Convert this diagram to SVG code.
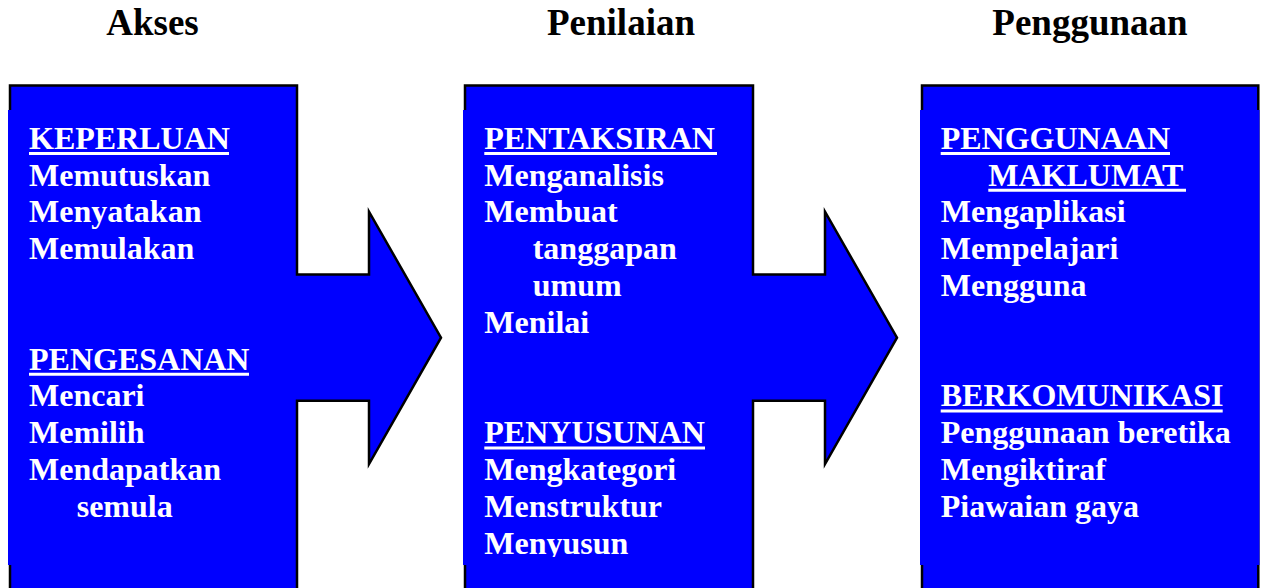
<svg xmlns="http://www.w3.org/2000/svg" width="1261" height="588" viewBox="0 0 1261 588">
<style>
.shape{fill:#0000FF;stroke:#000;stroke-width:2.5;stroke-linejoin:miter}
.cover{fill:#0000FF}
.title{font-family:"Liberation Serif","Times New Roman",serif;font-weight:bold;font-size:37px;fill:#000;text-anchor:middle}
.t{font-family:"Liberation Serif","Times New Roman",serif;font-weight:bold;font-size:32px;fill:#fff}
.ul{stroke:#fff;stroke-width:3}
</style>
<defs>
<clipPath id="clip2"><rect x="463" y="110" width="290" height="447"/></clipPath>
</defs>
<rect width="1261" height="588" fill="#fff"/>
<g id="titles">
<text class="title" x="152.5" y="35">Akses</text>
<text class="title" x="621" y="35">Penilaian</text>
<text class="title" x="1090" y="35">Penggunaan</text>
</g>
<g id="connectors">
<polygon class="shape" points="10,85.5 297,85.5 297,274.5 369,274.5 369,211.7 441,337.7 369,464 369,400.7 297,400.7 297,600 10,600"/>
<polygon class="shape" points="465,85.5 753,85.5 753,274.5 825,274.5 825,211.7 897,337.7 825,464 825,400.7 753,400.7 753,600 465,600"/>
</g>
<g id="node-akses">
<rect class="cover" x="8" y="110" width="287" height="455"/>
<text class="t" x="29" y="148.7">KEPERLUAN</text>
<line class="ul" x1="29" y1="153.5" x2="229" y2="153.5"/>
<text class="t" x="29" y="185.5">Memutuskan</text>
<text class="t" x="29" y="222.3">Menyatakan</text>
<text class="t" x="29" y="259.1">Memulakan</text>
<text class="t" x="29" y="369.5">PENGESANAN</text>
<line class="ul" x1="29" y1="374.3" x2="249" y2="374.3"/>
<text class="t" x="29" y="406.3">Mencari</text>
<text class="t" x="29" y="443.1">Memilih</text>
<text class="t" x="29" y="479.9">Mendapatkan</text>
<text class="t" x="76.7" y="516.7">semula</text>
</g>
<g id="node-penilaian">
<rect class="cover" x="463" y="110" width="288" height="455"/>
<g clip-path="url(#clip2)">
<text class="t" x="484.3" y="148.7">PENTAKSIRAN</text>
<line class="ul" x1="484.3" y1="153.5" x2="717" y2="153.5"/>
<text class="t" x="484.3" y="185.5">Menganalisis</text>
<text class="t" x="484.3" y="222.3">Membuat</text>
<text class="t" x="532.7" y="259.1">tanggapan</text>
<text class="t" x="532.7" y="295.9">umum</text>
<text class="t" x="484.3" y="332.7">Menilai</text>
<text class="t" x="484.3" y="443.1">PENYUSUNAN</text>
<line class="ul" x1="484.3" y1="447.9" x2="705" y2="447.9"/>
<text class="t" x="484.3" y="479.9">Mengkategori</text>
<text class="t" x="484.3" y="516.7">Menstruktur</text>
<text class="t" x="484.3" y="553.5">Menyusun</text>
</g>
</g>
<g id="node-penggunaan">
<rect class="shape" x="922" y="85.5" width="336.3" height="515"/>
<rect class="cover" x="920" y="110" width="339.5" height="455"/>
<text class="t" x="940.7" y="148.7">PENGGUNAAN</text>
<line class="ul" x1="940.7" y1="153.5" x2="1170" y2="153.5"/>
<text class="t" x="988.3" y="185.5">MAKLUMAT</text>
<line class="ul" x1="988.3" y1="190.3" x2="1186" y2="190.3"/>
<text class="t" x="940.7" y="222.3">Mengaplikasi</text>
<text class="t" x="940.7" y="259.1">Mempelajari</text>
<text class="t" x="940.7" y="295.9">Mengguna</text>
<text class="t" x="940.7" y="406.3">BERKOMUNIKASI</text>
<line class="ul" x1="940.7" y1="411.1" x2="1222.7" y2="411.1"/>
<text class="t" x="940.7" y="443.1">Penggunaan beretika</text>
<text class="t" x="940.7" y="479.9">Mengiktiraf</text>
<text class="t" x="940.7" y="516.7">Piawaian gaya</text>
</g>
</svg>
